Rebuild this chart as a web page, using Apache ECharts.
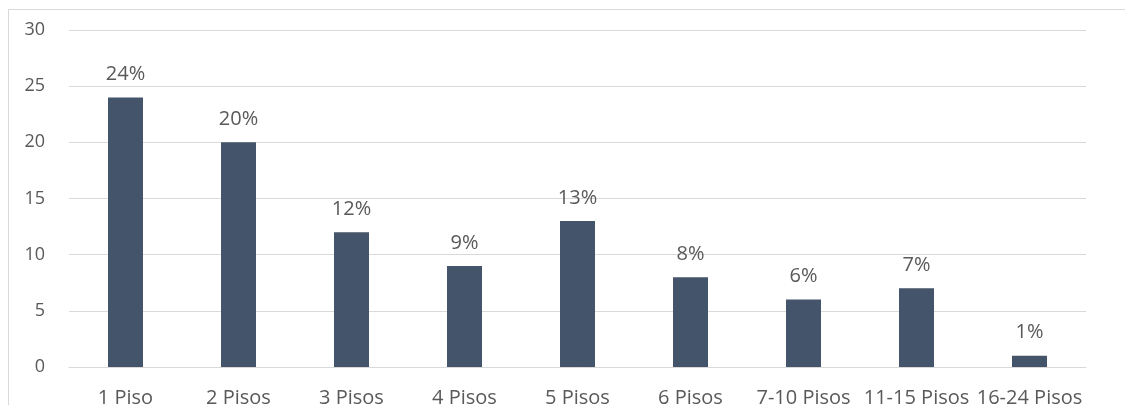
<!DOCTYPE html>
<html>
<head>
<meta charset="utf-8">
<script src="https://cdn.jsdelivr.net/npm/echarts@6/dist/echarts.min.js"></script>
<style>
  html, body { margin: 0; padding: 0; background: #fff; }
  #chart { width: 1125px; height: 405px; }
</style>
</head>
<body>
<div id="chart"></div>
<script>
  const categories = ['1 Piso', '2 Pisos', '3 Pisos', '4 Pisos', '5 Pisos', '6 Pisos', '7-10 Pisos', '11-15 Pisos', '16-24 Pisos'];
  const values = [24, 20, 12, 9, 13, 8, 6, 7, 1];

  const font = '"Open Sans", "Noto Sans", sans-serif';
  const textColor = '#595959';
  const lineColor = '#d9d9d9';

  const chart = echarts.init(document.getElementById('chart'));
  chart.setOption({
    animation: false,
    graphic: [
      {
        type: 'rect',
        shape: { x: 8.5, y: 9.5, width: 1200, height: 500 },
        style: { fill: 'none', stroke: lineColor, lineWidth: 1 },
        silent: true
      }
    ],
    grid: { left: 69, right: 39, top: 30, bottom: 38, outerBoundsMode: 'none', containLabel: false },
    xAxis: {
      type: 'category',
      data: categories,
      axisLine: { show: true, lineStyle: { color: lineColor, width: 1 } },
      axisTick: { show: false },
      axisLabel: { color: textColor, fontSize: 20, fontFamily: font, margin: 21, interval: 0 }
    },
    yAxis: {
      type: 'value',
      min: 0,
      max: 30,
      interval: 5,
      axisLine: { show: false },
      axisTick: { show: false },
      splitLine: { lineStyle: { color: lineColor, width: 1 } },
      axisLabel: { color: textColor, fontSize: 18, fontFamily: font, margin: 24 }
    },
    series: [
      {
        type: 'bar',
        data: values,
        barWidth: 35,
        itemStyle: { color: '#44546A' },
        label: {
          show: true,
          position: 'top',
          distance: 13,
          formatter: '{c}%',
          color: textColor,
          fontSize: 20,
          fontFamily: font
        }
      }
    ]
  });
</script>
</body>
</html>
